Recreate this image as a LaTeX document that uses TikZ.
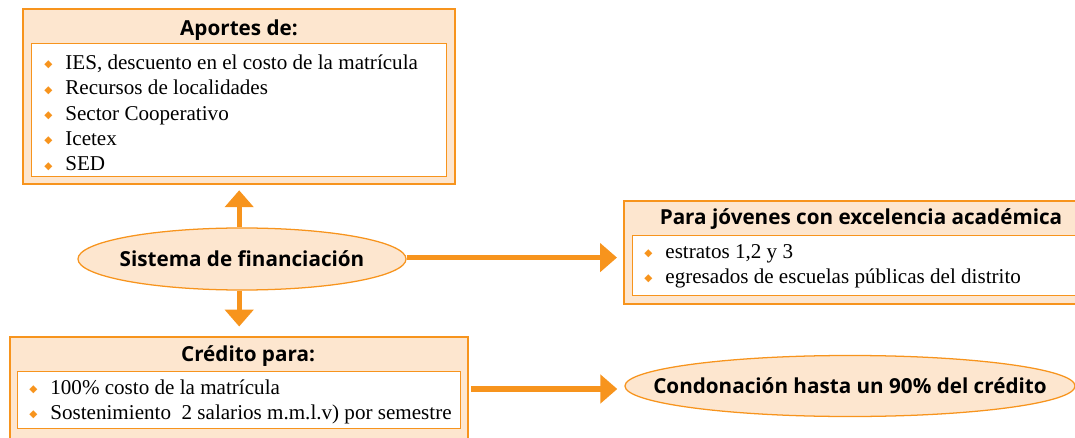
\documentclass[tikz,border=0pt]{standalone}
\usepackage{fontspec}
\setmainfont{Liberation Serif}
\newfontfamily\titulo{Open Sans}
\newfontfamily\simbolo{DejaVu Sans}
\usetikzlibrary{arrows.meta,shapes.geometric}

\definecolor{naranja}{HTML}{F7941D}
\definecolor{durazno}{HTML}{FDE6CF}

\newcommand{\vineta}{\makebox[15pt][l]{\raisebox{1.3pt}{\textcolor{naranja}{\simbolo\fontsize{7.5}{8}\selectfont ◆}}}}

\tikzset{
  caja/.style={draw=naranja, fill=durazno, line width=0.9pt},
  blanco/.style={draw=naranja, fill=white, line width=0.7pt},
  lista/.style={align=left, inner sep=0pt, anchor=west, font=\fontsize{15}{18}\selectfont},
  tit/.style={font=\titulo\bfseries\fontsize{14.7}{17}\selectfont},
  elipse/.style={ellipse, draw=naranja, fill=durazno, line width=0.9pt, inner xsep=-40pt, inner ysep=0pt},
  flecha/.style={draw=naranja, line width=3.6pt, -{Triangle[width=20pt,length=12pt]}}
}

\begin{document}
\begin{tikzpicture}[x=0.025cm, y=-0.025cm]

    \useasboundingbox (0,0) rectangle (1075,438);

    % aportes
    \node [caja, minimum width=10.8cm, minimum height=4.375cm] (aportes) at (239,96.5) {};
    \node [tit] (aportestit) at (239,30) {Aportes de:};
    \node [blanco, minimum width=10.35cm, minimum height=3.325cm] (aportesbl) at (239,110) {};
    \node [lista] (aporteslista) at (44,113) {%
      \vineta IES, descuento en el costo de la matrícula\\
      \vineta Recursos de localidades\\
      \vineta Sector Cooperativo\\
      \vineta Icetex\\
      \vineta SED};

    % centro
    \node [elipse, minimum width=8.2cm, minimum height=1.55cm, tit] (sistema) at (242,259) {Sistema de financiación};

    % jovenes
    \node [caja, minimum width=11.4cm, minimum height=2.575cm] (jovenes) at (852,252.5) {};
    \node [tit] (jovenestit) at (861,219) {Para jóvenes con excelencia académica};
    \node [blanco, minimum width=11.175cm, minimum height=1.475cm] (jovenesbl) at (856.5,265.5) {};
    \node [lista] (jovenesl) at (644,266) {%
      \vineta estratos 1,2 y 3\\
      \vineta egresados de escuelas públicas del distrito};

    % credito
    \node [caja, minimum width=11.45cm, minimum height=2.6cm] (credito) at (239,389) {};
    \node [tit] (creditotit) at (248,356) {Crédito para:};
    \node [blanco, minimum width=11.05cm, minimum height=1.425cm] (creditobl) at (239,399.5) {};
    \node [lista] (creditol) at (29,402) {%
      \vineta 100\% costo de la matrícula\\
      \vineta Sostenimiento\ \ 2 salarios m.m.l.v) por semestre};

    \node [elipse, minimum width=11.25cm, minimum height=1.525cm, tit] (condona) at (850,386) {Condonación hasta un 90\% del crédito};

    % flechas
    \draw [flecha, shorten >=4pt] ([xshift=-2pt]sistema.north) -- ([xshift=-2pt]sistema.north |- aportes.south);
    \draw [flecha, shorten >=7pt] ([xshift=-2pt]sistema.south) -- ([xshift=-2pt]sistema.south |- credito.north);
    \draw [flecha, shorten >=4.5pt] ([yshift=1pt]sistema.east) -- ([yshift=1pt]sistema.east -| jovenes.west);
    \draw [flecha, shorten <=1.5pt, shorten >=5pt] (credito.east) -- (credito.east -| condona.west);

\end{tikzpicture}
\end{document}
